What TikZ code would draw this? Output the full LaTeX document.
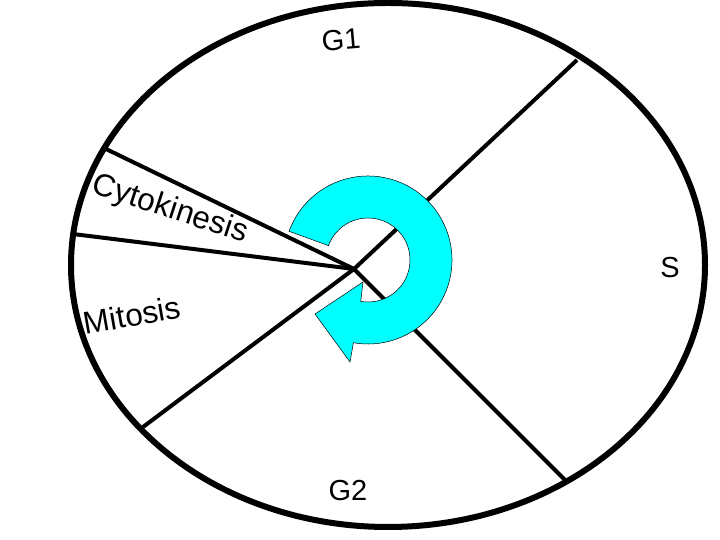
\documentclass[tikz,border=0pt]{standalone}
\usepackage{fontspec}
\setmainfont{Liberation Sans}
\usetikzlibrary{calc}
\definecolor{arrowcyan}{RGB}{0,255,255}
\tikzset{
  rim/.style={line width=6pt, draw=black},
  spoke/.style={line width=4pt, draw=black},
  phase/.style={font=\fontsize{29}{32}\selectfont, inner sep=0pt},
  bigphase/.style={font=\fontsize{31.5}{34}\selectfont, inner sep=0pt},
  cyclearrow/.style={fill=arrowcyan, draw=black, line width=0.5pt}
}
\begin{document}
\begin{tikzpicture}[x=1pt,y=1pt]
\useasboundingbox (0,0) rectangle (720,540);
\fill[white] (0,0) rectangle (720,540);
% outer cell ellipse
\draw[rim] (388,275) ellipse [x radius=317, y radius=262];
% hub and spoke ends
\coordinate (hub) at (354,271);
\coordinate (ur) at (577,480);
\coordinate (lr) at (565,60);
\coordinate (ll) at (143,113);
\coordinate (lf) at (73,306);
\coordinate (ul) at (106,391);
\draw[spoke] (hub) -- (ur);
\draw[spoke] (hub) -- (lr);
\draw[spoke] (hub) -- (ll);
\draw[spoke] (hub) -- (lf);
\draw[spoke] (hub) -- (ul);
% cyclic arrow
\coordinate (ac) at (368,280);
\draw[cyclearrow] ($(ac)+(160:84)$) arc[start angle=160, end angle=-100, radius=84]
  -- (350,178) -- (315,226) -- (363,258)
  -- ($(ac)+(-100:42)$) arc[start angle=-100, end angle=160, radius=42] -- cycle;
% labels
\node[phase, rotate=5] (g1) at (341,500) {G1};
\node[phase] (g2) at (348,49) {G2};
\node[phase] (s) at (670,272) {S};
\node[bigphase, rotate=-18] (cyto) at (170,330) {Cytokinesis};
\node[bigphase, rotate=10] (mito) at (132,225) {Mitosis};
\end{tikzpicture}
\end{document}
